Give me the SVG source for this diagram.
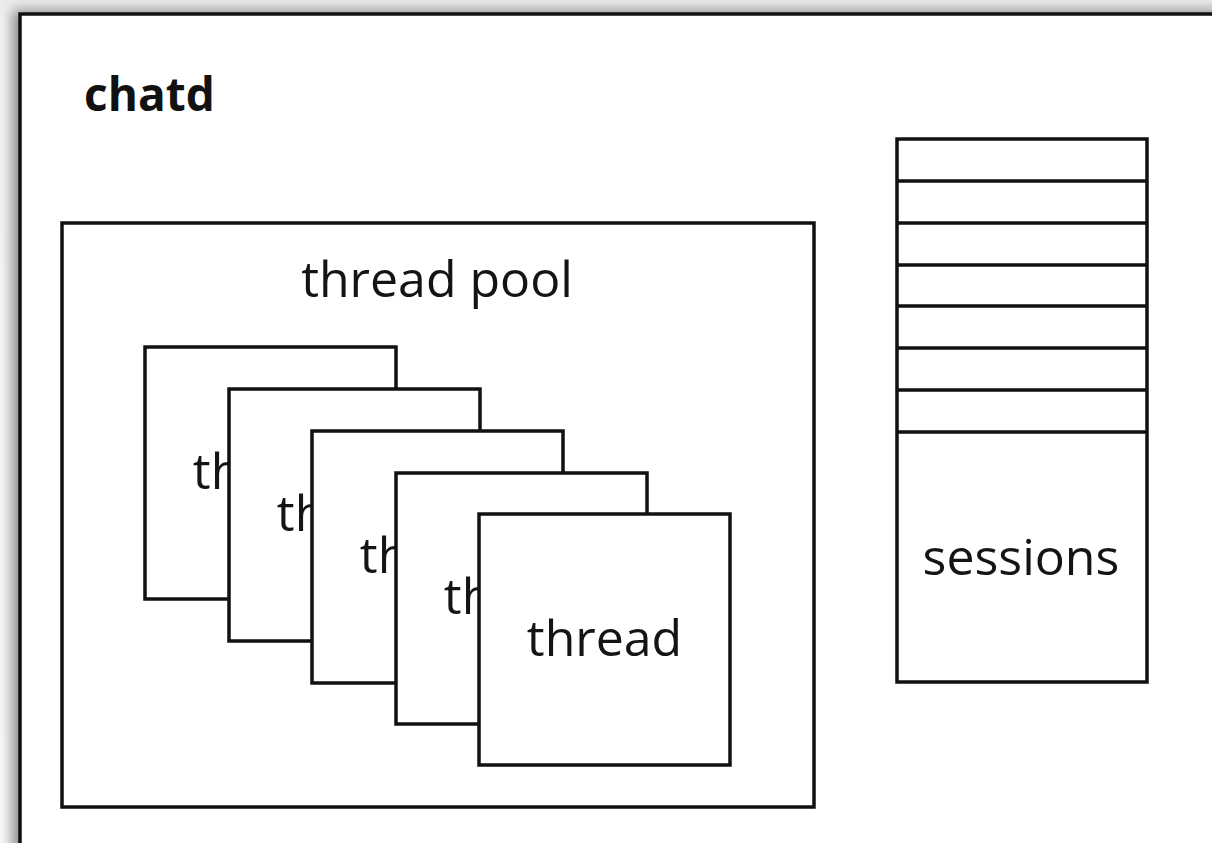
<svg xmlns="http://www.w3.org/2000/svg" width="1212" height="843" viewBox="0 0 1212 843">
  <style>
    .box { fill: #ffffff; stroke: #111111; stroke-width: 3.5; }
    .line { stroke: #111111; stroke-width: 3.5; fill: none; }
    .lbl { font-family: "Open Sans", "Noto Sans", sans-serif; fill: #141414; text-anchor: middle; font-size: 50px; }
    .title { font-family: "Open Sans", "Noto Sans", sans-serif; font-weight: bold; fill: #111111; font-size: 46px; }
  </style>
  <defs>
    <filter id="shadow" x="-5%" y="-5%" width="110%" height="110%">
      <feGaussianBlur stdDeviation="7"/>
    </filter>
    <linearGradient id="bg" x1="0" y1="0" x2="0" y2="1">
      <stop offset="0" stop-color="#ececec"/>
      <stop offset="0.03" stop-color="#f6f6f6"/>
      <stop offset="1" stop-color="#fafafa"/>
    </linearGradient>
  </defs>

  <!-- page background and drop shadow of the frame -->
  <rect x="0" y="0" width="1212" height="843" fill="url(#bg)"/>
  <rect x="12" y="10" width="1220" height="860" fill="#8a8a8a" filter="url(#shadow)"/>

  <!-- chatd frame -->
  <g id="chatd">
    <rect class="box" x="20" y="14" width="1220" height="860"/>
    <text class="title" x="84" y="111">chatd</text>
  </g>

  <!-- thread pool container -->
  <g id="thread-pool">
    <rect class="box" x="62" y="223" width="752" height="584"/>
    <text class="lbl" x="437" y="297">thread pool</text>
  </g>

  <!-- stacked thread cards, back to front -->
  <g id="thread-1">
    <rect class="box" x="145" y="347" width="251" height="252"/>
    <text class="lbl" x="270.5" y="489">thread</text>
  </g>
  <g id="thread-2">
    <rect class="box" x="229" y="389" width="251" height="252"/>
    <text class="lbl" x="354.5" y="531">thread</text>
  </g>
  <g id="thread-3">
    <rect class="box" x="312" y="431" width="251" height="252"/>
    <text class="lbl" x="437.5" y="573">thread</text>
  </g>
  <g id="thread-4">
    <rect class="box" x="396" y="473" width="251" height="251"/>
    <text class="lbl" x="521.5" y="614">thread</text>
  </g>
  <g id="thread-5">
    <rect class="box" x="479" y="514" width="251" height="251"/>
    <text class="lbl" x="604.5" y="656">thread</text>
  </g>

  <!-- session table -->
  <g id="sessions">
    <rect class="box" x="897" y="139" width="250" height="543"/>
    <line class="line" x1="897" y1="181" x2="1147" y2="181"/>
    <line class="line" x1="897" y1="223" x2="1147" y2="223"/>
    <line class="line" x1="897" y1="265" x2="1147" y2="265"/>
    <line class="line" x1="897" y1="306" x2="1147" y2="306"/>
    <line class="line" x1="897" y1="348" x2="1147" y2="348"/>
    <line class="line" x1="897" y1="390" x2="1147" y2="390"/>
    <line class="line" x1="897" y1="432" x2="1147" y2="432"/>
    <text class="lbl" x="1021" y="575">sessions</text>
  </g>

  <g id="connectors"></g>
</svg>
